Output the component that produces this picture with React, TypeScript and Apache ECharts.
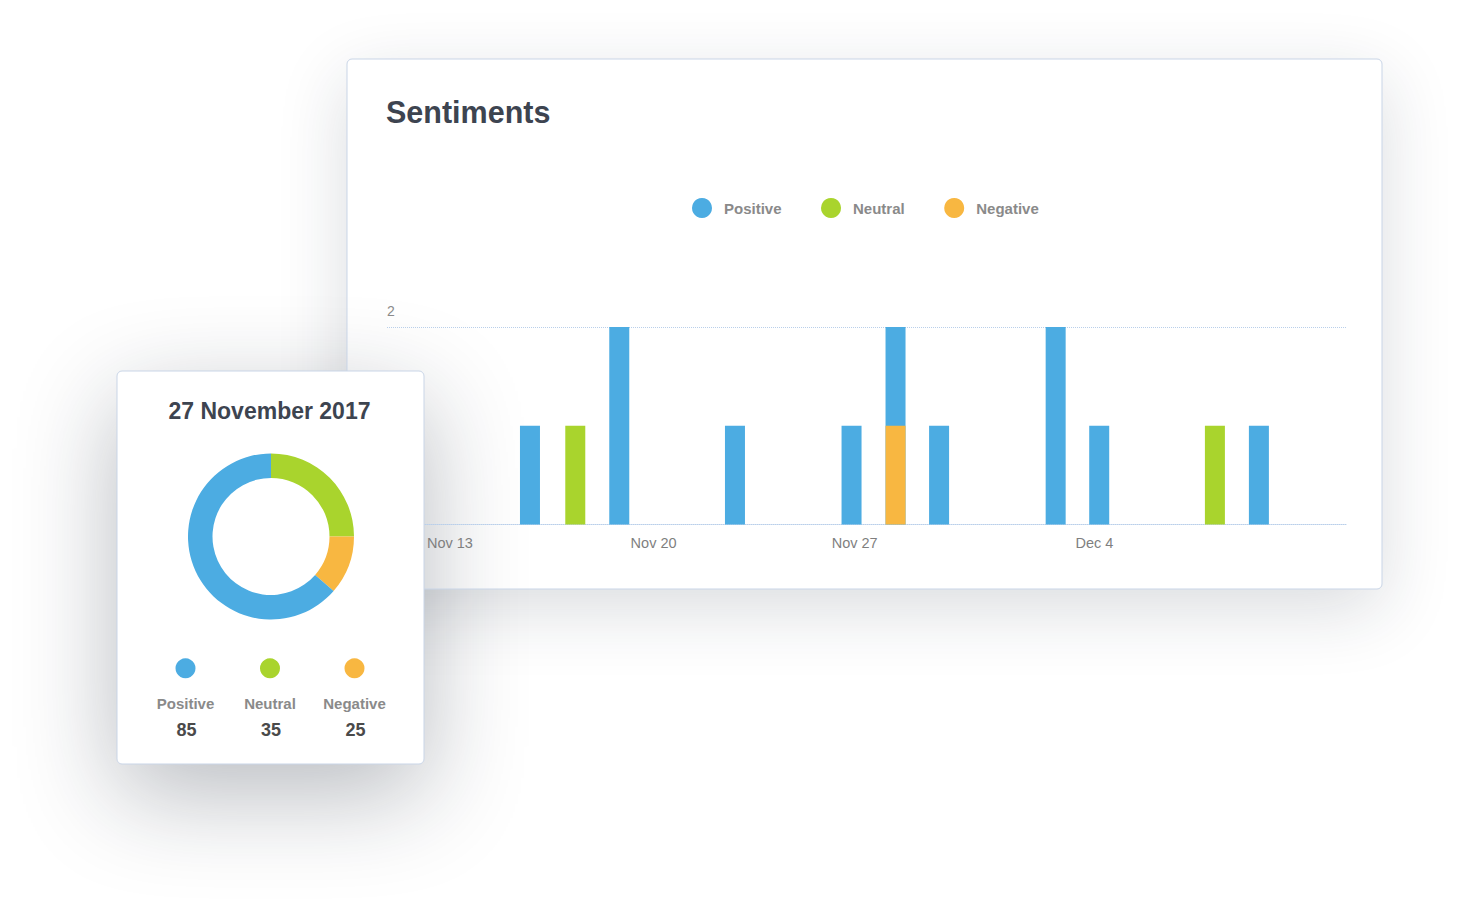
import React, { useEffect, useRef } from 'react';
import * as echarts from 'echarts';

// ---- data ----
const seriesNames = ['Positive', 'Neutral', 'Negative'];
const seriesColors = ['#4cace2', '#a9d42d', '#f8b741'];
// bar positions along the time axis (day offsets from axis start)
const dayOffsets = [3.25, 4.28, 5.28, 7.91, 10.56, 11.56, 12.55, 15.2, 16.19, 18.82, 19.82];
const positiveValues = [1, 0, 2, 1, 1, 1, 1, 2, 1, 0, 1];
const neutralValues = [0, 1, 0, 0, 0, 0, 0, 0, 0, 1, 0];
const negativeValues = [0, 0, 0, 0, 0, 1, 0, 0, 0, 0, 0];
const xTickOffsets = [1.43, 6.06, 10.63, 16.08];
const xTickLabels = ['Nov 13', 'Nov 20', 'Nov 27', 'Dec 4'];
const xMax = 21.8;
const yMax = 2;
const yShownLabels = [2];

const dayTitle = '27 November 2017';
const dayTotals = [85, 35, 25]; // Positive, Neutral, Negative
const donutShares = [63.6, 25, 11.4]; // Positive, Neutral, Negative as drawn in the ring

const FONT = '"Liberation Sans", Arial, Helvetica, sans-serif';

export default function App() {
  const ref = useRef<HTMLDivElement>(null);

  useEffect(() => {
    const chart = echarts.init(ref.current as HTMLDivElement, null, { renderer: 'svg' });
    const valuesByName: Record<string, number[]> = {
      Positive: positiveValues,
      Neutral: neutralValues,
      Negative: negativeValues,
    };
    const colorOf: Record<string, string> = {};
    seriesNames.forEach((n, i) => (colorOf[n] = seriesColors[i]));

    // stacking bottom -> top; drawn as overlapping bars at cumulative heights
    const stackOrder = ['Negative', 'Neutral', 'Positive'];
    const barSeries = stackOrder
      .map((name, level) => ({
        type: 'bar',
        name,
        barWidth: 20,
        barGap: '-100%',
        z: 5 - level,
        silent: true,
        itemStyle: { color: colorOf[name] },
        data: dayOffsets.map((d, i) => {
          const own = valuesByName[name][i];
          if (!own) return [d, '-'];
          let cum = 0;
          for (let k = 0; k <= level; k++) cum += valuesByName[stackOrder[k]][i];
          return [d, cum];
        }),
      }))
      .reverse();

    // pie drawn clockwise from 12 o'clock: Neutral, Negative, Positive
    const pieOrder = [1, 2, 0];
    const pieSeries = {
      type: 'pie',
      z: 21,
      silent: true,
      center: [271, 536.5],
      radius: [58.5, 83],
      startAngle: 90,
      clockwise: true,
      label: { show: false },
      labelLine: { show: false },
      emphasis: { disabled: true },
      data: pieOrder.map((i) => ({
        name: seriesNames[i],
        value: donutShares[i],
        itemStyle: { color: seriesColors[i] },
      })),
    };

    const legendX = [185.5, 270, 354.5];
    const smallLegend: any[] = [];
    seriesNames.forEach((name, i) => {
      smallLegend.push({
        type: 'circle',
        z: 22,
        shape: { cx: legendX[i], cy: 668.3, r: 10 },
        style: { fill: seriesColors[i] },
      });
      smallLegend.push({
        type: 'text',
        z: 22,
        style: {
          text: name,
          x: legendX[i],
          y: 703.5,
          align: 'center',
          verticalAlign: 'middle',
          fill: '#8a8a8a',
          fontSize: 15,
          fontWeight: 'bold',
          fontFamily: FONT,
        },
      });
      smallLegend.push({
        type: 'text',
        z: 22,
        style: {
          text: String(dayTotals[i]),
          x: legendX[i] + 1,
          y: 729.5,
          align: 'center',
          verticalAlign: 'middle',
          fill: '#4a4a4a',
          fontSize: 18,
          fontWeight: 'bold',
          fontFamily: FONT,
        },
      });
    });

    const option: any = {
      animation: false,
      backgroundColor: 'transparent',
      textStyle: { fontFamily: FONT },
      graphic: {
        elements: [
          {
            type: 'rect',
            z: 0,
            shape: { x: 347, y: 59, width: 1035, height: 530, r: 5 },
            style: { fill: 'none', stroke: '#c9d5e7', lineWidth: 1 },
          },
          {
            type: 'text',
            z: 1,
            style: {
              text: 'Sentiments',
              x: 386,
              y: 112,
              verticalAlign: 'middle',
              fill: '#3d4450',
              fontSize: 30.5,
              fontWeight: 'bold',
              fontFamily: FONT,
            },
          },
          {
            type: 'rect',
            z: 20,
            shape: { x: 117, y: 371, width: 307, height: 393, r: 5 },
            style: { fill: '#ffffff', stroke: '#c9d5e7', lineWidth: 1 },
          },
          {
            type: 'text',
            z: 22,
            style: {
              text: dayTitle,
              x: 269.5,
              y: 411,
              align: 'center',
              verticalAlign: 'middle',
              fill: '#3d4450',
              fontSize: 23,
              fontWeight: 'bold',
              fontFamily: FONT,
            },
          },
          ...smallLegend,
        ],
      },
      legend: {
        data: seriesNames,
        left: 692,
        top: 198,
        padding: 0,
        icon: 'circle',
        itemWidth: 20,
        itemHeight: 20,
        itemGap: 39.5,
        selectedMode: false,
        z: 4,
        textStyle: {
          color: '#8a8a8a',
          fontSize: 15,
          fontWeight: 'bold',
          fontFamily: FONT,
          padding: [0, 0, 0, 7],
        },
      },
      grid: { left: 387, right: 114, top: 327, bottom: 387.5, containLabel: false },
      xAxis: {
        type: 'value',
        min: 0,
        max: xMax,
        z: 1,
        splitLine: { show: false },
        axisTick: { show: false },
        axisLine: { show: true, lineStyle: { color: '#b9cfea', type: 'dotted', width: 1 } },
        axisLabel: {
          customValues: xTickOffsets,
          formatter: (v: number) => {
            const idx = xTickOffsets.findIndex((t) => Math.abs(t - v) < 1e-6);
            return idx >= 0 ? xTickLabels[idx] : '';
          },
          color: '#7f7f7f',
          fontSize: 14.5,
          margin: 11,
          fontFamily: FONT,
        },
      },
      yAxis: {
        type: 'value',
        min: 0,
        max: yMax,
        interval: yMax,
        z: 1,
        axisLine: { show: false },
        axisTick: { show: false },
        splitLine: { show: true, lineStyle: { color: '#b9cfea', type: 'dotted', width: 1 } },
        axisLabel: {
          inside: true,
          margin: 0,
          align: 'left',
          verticalAlign: 'bottom',
          padding: [0, 0, 9, 0],
          color: '#8a8a8a',
          fontSize: 14,
          fontFamily: FONT,
          formatter: (v: number) => (yShownLabels.includes(v) ? String(v) : ''),
        },
      },
      series: [...barSeries, pieSeries],
    };

    chart.setOption(option);
    return () => chart.dispose();
  }, []);

  return (
    <div style={{ position: 'absolute', left: 0, top: 0, width: 1460, height: 912, background: '#ffffff', overflow: 'hidden' }}>
      <div
        style={{
          position: 'absolute',
          left: 347,
          top: 59,
          width: 1035,
          height: 530,
          borderRadius: 5,
          background: '#ffffff',
          boxShadow: '0 20px 70px rgba(25,35,55,0.16)',
        }}
      />
      <div
        style={{
          position: 'absolute',
          left: 117,
          top: 371,
          width: 307,
          height: 393,
          borderRadius: 5,
          background: 'transparent',
          boxShadow: '0 30px 100px rgba(20,30,45,0.30)',
        }}
      />
      <div ref={ref} style={{ position: 'absolute', left: 0, top: 0, width: 1460, height: 912 }} />
    </div>
  );
}
